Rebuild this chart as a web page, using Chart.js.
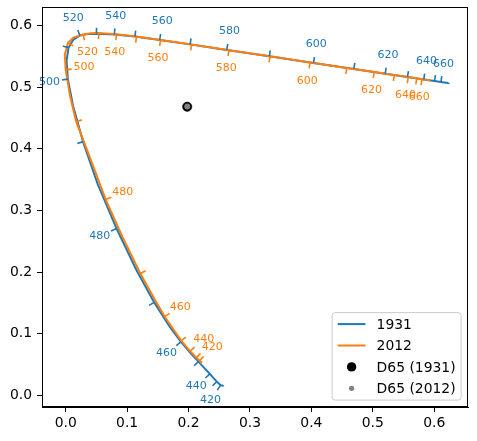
<!DOCTYPE html>
<html lang="en">
<head>
<meta charset="UTF-8" />
<title>Spectral locus u'v'</title>
<script src="https://cdn.jsdelivr.net/npm/chart.js@4.4.1/dist/chart.umd.min.js"></script>
<style>
  body { margin: 0; background: #fff; }
</style>
</head>
<body>
<canvas id="chart" width="477" height="441"></canvas>
<script>
// spectral locus, CIE 1931 observer (u', v')
const wl1931 = [380, 390, 400, 410, 420, 425, 430, 435, 440, 445, 450, 455, 460, 465, 470, 475, 480, 485, 490, 495,
                500, 505, 510, 515, 520, 525, 530, 540, 550, 560, 570, 580, 590, 600, 610, 620, 630, 640, 650, 660,
                670, 680, 690, 700];
const u1931 = [0.2568, 0.2564, 0.2557, 0.2545, 0.2522, 0.2496, 0.2461, 0.2411, 0.2347, 0.2266, 0.2161, 0.2033, 0.1877,
               0.1690, 0.1441, 0.1147, 0.0828, 0.0521, 0.0282, 0.0119, 0.0035, 0.0014, 0.0046, 0.0123, 0.0231, 0.0360,
               0.0501, 0.0792, 0.1127, 0.1531, 0.2026, 0.2623, 0.3315, 0.4035, 0.4692, 0.5203, 0.5565, 0.5830, 0.6005,
               0.6109, 0.6162, 0.6199, 0.6225, 0.6234];
const v1931 = [0.0165, 0.0163, 0.0159, 0.0159, 0.0169, 0.0191, 0.0226, 0.0279, 0.0350, 0.0437, 0.0549, 0.0688, 0.0871,
               0.1119, 0.1510, 0.2044, 0.2708, 0.3427, 0.4117, 0.4698, 0.5131, 0.5432, 0.5638, 0.5770, 0.5837, 0.5861,
               0.5868, 0.5856, 0.5821, 0.5766, 0.5694, 0.5604, 0.5501, 0.5393, 0.5296, 0.5219, 0.5165, 0.5125, 0.5099,
               0.5084, 0.5076, 0.5070, 0.5066, 0.5065];

// spectral locus, CIE 2012 observer (u', v')
const wl2012 = [390, 400, 410, 420, 430, 435, 440, 445, 450, 455, 460, 465, 470, 475, 480, 485, 490, 495,
                500, 505, 510, 515, 520, 525, 530, 540, 550, 560, 570, 580, 590, 600, 610, 620, 630, 640, 650, 660,
                670, 680, 690, 700];
const u2012 = [0.2215, 0.2212, 0.2203, 0.2180, 0.2125, 0.2080, 0.2025, 0.1958, 0.1880, 0.1755, 0.1610, 0.1425, 0.1215,
               0.0920, 0.0650, 0.0390, 0.0171, 0.0070, 0.0000, -0.0015, 0.0035, 0.0125, 0.0283, 0.0410, 0.0538, 0.0827,
               0.1153, 0.1544, 0.2050, 0.2658, 0.3326, 0.3978, 0.4576, 0.5022, 0.5350, 0.5576, 0.5715, 0.5800, 0.5860,
               0.5900, 0.5920, 0.5940];
const v2012 = [0.0530, 0.0534, 0.0543, 0.0563, 0.0615, 0.0663, 0.0720, 0.0797, 0.0890, 0.1070, 0.1280, 0.1600, 0.1980,
               0.2580, 0.3180, 0.3870, 0.4440, 0.4860, 0.5280, 0.5530, 0.5715, 0.5805, 0.5855, 0.5875, 0.5878, 0.5860,
               0.5820, 0.5766, 0.5692, 0.5600, 0.5500, 0.5401, 0.5312, 0.5246, 0.5197, 0.5163, 0.5143, 0.5130, 0.5121,
               0.5115, 0.5112, 0.5109];

// D65 white point for each observer
const d65u = [0.1978, 0.1979];
const d65v = [0.4683, 0.4685];

const tickWl = [420, 430, 440, 450, 460, 470, 480, 490, 500, 510, 520, 530, 540, 550, 560, 570, 580, 590, 600, 610, 620, 630, 640, 650, 660];
const labelWl = [420, 440, 460, 480, 500, 520, 540, 560, 580, 600, 620, 640, 660];
const xTicks = [0.0, 0.1, 0.2, 0.3, 0.4, 0.5, 0.6];
const yTicks = [0.0, 0.1, 0.2, 0.3, 0.4, 0.5, 0.6];

const BLUE = '#1f77b4';
const ORANGE = '#ff7f0e';
const FONT = '"DejaVu Sans", sans-serif';

const toPoints = (us, vs) => us.map((u, i) => ({ x: u, y: vs[i] }));

// little perpendicular marks + wavelength text along a locus
function drawMarks(chart, wl, us, vs, color, side) {
    const { ctx, scales: { x, y } } = chart;
    const px = us.map(u => x.getPixelForValue(u));
    const py = vs.map(v => y.getPixelForValue(v));
    ctx.save();
    ctx.strokeStyle = color;
    ctx.fillStyle = color;
    ctx.lineWidth = 1.6;
    ctx.font = '11px ' + FONT;
    ctx.textAlign = 'center';
    ctx.textBaseline = 'middle';
    tickWl.forEach(w => {
        const i = wl.indexOf(w);
        if (i < 0) return;
        const a = Math.max(i - 1, 0), b = Math.min(i + 1, wl.length - 1);
        let dx = px[b] - px[a], dy = py[b] - py[a];
        const len = Math.hypot(dx, dy);
        dx /= len; dy /= len;
        const nx = side * dy, ny = -side * dx;
        ctx.beginPath();
        ctx.moveTo(px[i], py[i]);
        ctx.lineTo(px[i] + nx * 6, py[i] + ny * 6);
        ctx.stroke();
        if (labelWl.includes(w)) {
            ctx.fillText(String(w), px[i] + nx * 18.5, py[i] + ny * 18.5);
        }
    });
    ctx.restore();
}

const markPlugin = {
    id: 'marks',
    afterDatasetsDraw(chart) {
        drawMarks(chart, wl1931, u1931, v1931, BLUE, 1);
        drawMarks(chart, wl2012, u2012, v2012, ORANGE, -1);
    }
};

const framePlugin = {
    id: 'frame',
    afterDraw(chart) {
        const { ctx, chartArea: ca } = chart;
        ctx.save();
        ctx.strokeStyle = '#000';
        ctx.lineWidth = 1;
        ctx.strokeRect(Math.round(ca.left) + 0.5, Math.round(ca.top) + 0.5,
                       Math.round(ca.right - ca.left) - 1, Math.round(ca.bottom - ca.top) - 1);

        // legend box, lower right
        const w = 129, h = 87.5;
        const bx = ca.right - 6.9 - w, by = ca.bottom - 6.9 - h;
        ctx.beginPath();
        ctx.roundRect(bx, by, w, h, 3);
        ctx.fillStyle = 'rgba(255,255,255,0.8)';
        ctx.fill();
        ctx.strokeStyle = '#cccccc';
        ctx.stroke();

        const rows = [
            { text: '1931', kind: 'line', color: BLUE },
            { text: '2012', kind: 'line', color: ORANGE },
            { text: 'D65 (1931)', kind: 'dot', color: '#000', r: 4.7 },
            { text: 'D65 (2012)', kind: 'dot', color: '#808080', r: 2.6 }
        ];
        ctx.font = '13.9px ' + FONT;
        ctx.textBaseline = 'middle';
        ctx.textAlign = 'left';
        rows.forEach((row, k) => {
            const ry = by + 11.5 + k * 21.4;
            const hx = bx + 5.6;
            if (row.kind === 'line') {
                ctx.strokeStyle = row.color;
                ctx.lineWidth = 2;
                ctx.beginPath();
                ctx.moveTo(hx, ry);
                ctx.lineTo(hx + 27.8, ry);
                ctx.stroke();
            } else {
                ctx.fillStyle = row.color;
                ctx.beginPath();
                ctx.arc(hx + 13.9, ry, row.r, 0, Math.PI * 2);
                ctx.fill();
            }
            ctx.fillStyle = '#000';
            ctx.fillText(row.text, bx + 44.5, ry + 1);
        });
        ctx.restore();
    }
};

const ctx = document.getElementById('chart').getContext('2d');
new Chart(ctx, {
    type: 'scatter',
    data: {
        datasets: [{
            label: '1931',
            data: toPoints(u1931, v1931),
            showLine: true,
            borderColor: BLUE,
            borderWidth: 2,
            pointRadius: 0,
            order: 4
        }, {
            label: '2012',
            data: toPoints(u2012, v2012),
            showLine: true,
            borderColor: ORANGE,
            borderWidth: 2,
            pointRadius: 0,
            order: 3
        }, {
            label: 'D65 (1931)',
            data: [{ x: d65u[0], y: d65v[0] }],
            backgroundColor: '#000',
            borderColor: '#000',
            borderWidth: 0.5,
            pointRadius: 4.7,
            order: 2
        }, {
            label: 'D65 (2012)',
            data: [{ x: d65u[1], y: d65v[1] }],
            backgroundColor: '#808080',
            borderWidth: 0,
            pointRadius: 3,
            order: 1
        }]
    },
    options: {
        responsive: false,
        animation: false,
        layout: { padding: { top: 7, right: 9, left: 0, bottom: 0 } },
        plugins: {
            legend: { display: false },
            tooltip: { enabled: false }
        },
        scales: {
            x: {
                type: 'linear',
                min: -0.0386,
                max: 0.655,
                afterBuildTicks: s => { s.ticks = xTicks.map(v => ({ value: v })); },
                afterFit: s => { s.height = 34; s.paddingLeft = 0; s.paddingRight = 0; },
                ticks: {
                    callback: v => Number(v).toFixed(1),
                    color: '#000',
                    font: { family: FONT, size: 13.9 },
                    padding: 3,
                    maxRotation: 0,
                    autoSkip: false
                },
                grid: { drawOnChartArea: false, drawTicks: true, tickLength: 5, color: '#000' },
                border: { display: true, color: '#000' }
            },
            y: {
                type: 'linear',
                min: -0.0186,
                max: 0.630,
                afterBuildTicks: s => { s.ticks = yTicks.map(v => ({ value: v })); },
                afterFit: s => { s.width = 42; s.paddingTop = 0; s.paddingBottom = 0; },
                ticks: {
                    callback: v => Number(v).toFixed(1),
                    color: '#000',
                    font: { family: FONT, size: 13.9 },
                    padding: 5,
                    autoSkip: false
                },
                grid: { drawOnChartArea: false, drawTicks: true, tickLength: 5, color: '#000' },
                border: { display: true, color: '#000' }
            }
        }
    },
    plugins: [markPlugin, framePlugin]
});
</script>
</body>
</html>
